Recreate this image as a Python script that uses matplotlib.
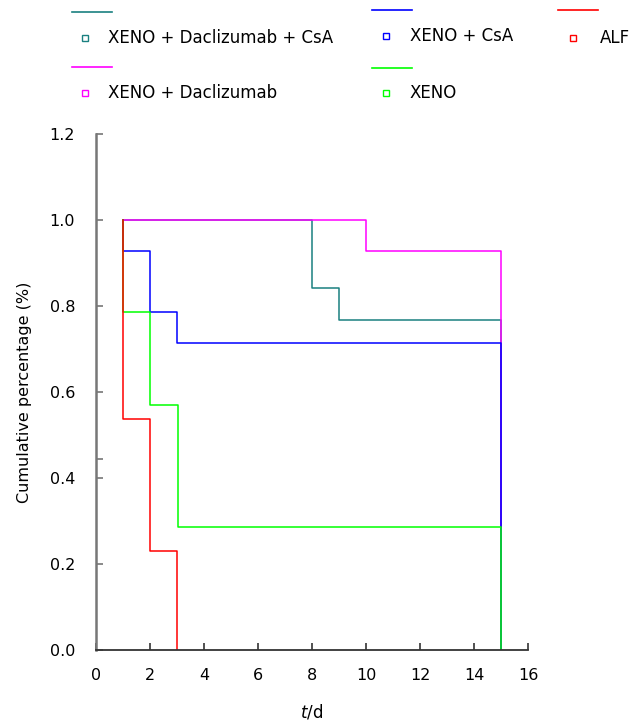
import matplotlib
matplotlib.use("Agg")
import matplotlib.pyplot as plt
from matplotlib.lines import Line2D

plt.rcParams['font.family'] = ['DejaVu Sans']

# Data (Kaplan-Meier style step curves)
labels = ["XENO + Daclizumab + CsA", "XENO + CsA", "ALF", "XENO + Daclizumab", "XENO"]
colors = ["#1a8080", "#0000ff", "#ff0000", "#ff00ff", "#00ff00"]

t_dac_csa = [1, 8, 9, 15]
s_dac_csa = [1.0, 0.842, 0.767, 0.0]
t_dac = [1, 10, 15]
s_dac = [1.0, 0.929, 0.0]
t_csa = [1, 1, 2, 3, 15]
s_csa = [1.0, 0.929, 0.786, 0.714, 0.0]
t_xeno = [1, 1, 2, 3.05, 15]
s_xeno = [1.0, 0.786, 0.571, 0.286, 0.0]
t_alf = [1, 1, 2, 3]
s_alf = [1.0, 0.538, 0.231, 0.0]

x_ticks = [0, 2, 4, 6, 8, 10, 12, 14, 16]
y_ticks = [0.0, 0.2, 0.4, 0.6, 0.8, 1.0, 1.2]

W, H = 643, 720
fig = plt.figure(figsize=(W / 100, H / 100), dpi=100)
ax = fig.add_axes([96 / W, 1 - 650 / H, (528 - 96) / W, (650 - 134.3) / H])

lw = 1.1
ax.plot(t_dac_csa, s_dac_csa, drawstyle='steps-post', color=colors[0], lw=lw)
ax.plot(t_dac, s_dac, drawstyle='steps-post', color=colors[3], lw=lw)
ax.plot(t_csa, s_csa, drawstyle='steps-post', color=colors[1], lw=lw)
ax.plot(t_xeno, s_xeno, drawstyle='steps-post', color=colors[4], lw=lw)
ax.plot(t_alf, s_alf, drawstyle='steps-post', color=colors[2], lw=lw)

ax.set_xlim(0, 16)
ax.set_ylim(0, 1.2)
ax.set_xticks(x_ticks)
ax.set_xticklabels([str(v) for v in x_ticks])
ax.set_yticks(y_ticks)
ax.set_yticklabels([f"{v:.1f}" for v in y_ticks])
ax.set_yticks([0.445], minor=True)
ax.tick_params(axis='both', which='both', direction='in', length=5, width=1.2,
               labelsize=11.5, colors='#333333', labelcolor='black')
ax.tick_params(axis='y', which='both', colors='#777777', labelcolor='black', pad=15)
ax.tick_params(axis='x', pad=13)
for side in ['top', 'right']:
    ax.spines[side].set_visible(False)
ax.spines['left'].set_color('#777777')
ax.spines['left'].set_linewidth(1.8)
ax.spines['bottom'].set_color('#333333')
ax.spines['bottom'].set_linewidth(1.3)

ax.set_ylabel("Cumulative percentage (%)", fontsize=11.5, labelpad=13)
ax.set_xlabel("$\\it{t}$/d", fontsize=12, labelpad=14)

# Custom legend at top
legend_pos = [
    (72, 12, 85, 38, 108),
    (372, 10, 386, 36, 410),
    (558, 10, 573, 38, 600),
    (72, 67, 85, 93, 108),
    (372, 68, 386, 93, 410),
]
for (lx, ly, mx, my, tx), lab, col in zip(legend_pos, labels, colors):
    fig.add_artist(Line2D([lx / W, (lx + 40) / W], [1 - ly / H, 1 - ly / H],
                          color=col, lw=1.2, transform=fig.transFigure))
    fig.add_artist(Line2D([mx / W], [1 - my / H], marker='s', markersize=5,
                          markerfacecolor='none', markeredgecolor=col,
                          markeredgewidth=1.0, linestyle='none',
                          transform=fig.transFigure))
    fig.text(tx / W, 1 - my / H, lab, fontsize=12, va='center', ha='left')

fig.savefig("out.png", dpi=100)
